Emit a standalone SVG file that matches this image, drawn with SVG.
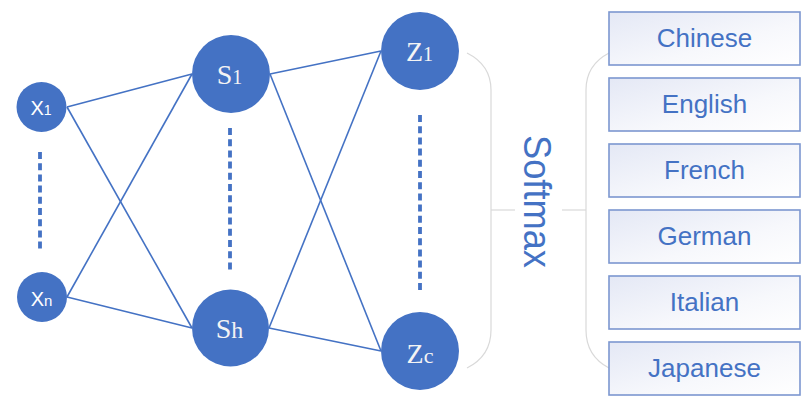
<svg xmlns="http://www.w3.org/2000/svg" width="811" height="407" viewBox="0 0 811 407">
<style>
.node{fill:#4472C4;}
.lbl-sans{font-family:"Liberation Sans",Arial,sans-serif;fill:#FFFFFF;text-anchor:middle;}
.lbl-serif{font-family:"Liberation Serif","Times New Roman",serif;fill:#F4F4F4;text-anchor:middle;}
.conn{stroke:#4472C4;stroke-width:1.6;fill:none;}
.dots{stroke:#4472C4;stroke-width:3.8;stroke-dasharray:7 4.2;fill:none;}
.brace{stroke:#D9D9D9;stroke-width:1.2;fill:none;}
.box{fill:url(#boxgrad);stroke:#7C97D0;stroke-width:1.6;}
.boxtxt{font-family:"Liberation Sans",Arial,sans-serif;font-size:26px;fill:#4472C4;text-anchor:middle;}
.soft{font-family:"Liberation Sans",Arial,sans-serif;font-size:38px;fill:#4472C4;text-anchor:middle;}
</style>
<defs>
<linearGradient id="boxgrad" x1="0" y1="0" x2="1" y2="1">
<stop offset="0" stop-color="#E4E8F5"/>
<stop offset="0.6" stop-color="#F7F8FC"/>
<stop offset="1" stop-color="#FFFFFF"/>
</linearGradient>
</defs>
<rect width="811" height="407" fill="#FFFFFF"/>
<g id="connectors">
<line class="conn" x1="67" y1="107" x2="192" y2="74"/>
<line class="conn" x1="67" y1="107" x2="192" y2="328"/>
<line class="conn" x1="67" y1="297" x2="192" y2="74"/>
<line class="conn" x1="67" y1="297" x2="192" y2="328"/>
<line class="conn" x1="270" y1="74" x2="381" y2="51"/>
<line class="conn" x1="270" y1="74" x2="381" y2="351"/>
<line class="conn" x1="269" y1="328" x2="381" y2="51"/>
<line class="conn" x1="269" y1="328" x2="381" y2="351"/>
</g>
<g id="dots">
<line class="dots" x1="40" y1="152" x2="40" y2="250"/>
<line class="dots" x1="230" y1="128" x2="230" y2="272"/>
<line class="dots" x1="420" y1="115" x2="420" y2="290"/>
</g>
<g id="x1"><circle class="node" cx="41.5" cy="107" r="25"/><text class="lbl-sans" x="41" y="115" font-size="20">X<tspan font-size="14">1</tspan></text></g>
<g id="xn"><circle class="node" cx="42" cy="297" r="25"/><text class="lbl-sans" x="41.5" y="306" font-size="20">X<tspan font-size="15">n</tspan></text></g>
<g id="s1"><circle class="node" cx="231" cy="74" r="39"/><text class="lbl-serif" x="229.5" y="84" font-size="28">S<tspan font-size="20">1</tspan></text></g>
<g id="sh"><circle class="node" cx="230.5" cy="328" r="38.5"/><text class="lbl-serif" x="229.5" y="338" font-size="28">S<tspan font-size="24">h</tspan></text></g>
<g id="z1"><circle class="node" cx="420" cy="51" r="39"/><text class="lbl-serif" x="419.5" y="61" font-size="28">Z<tspan font-size="20">1</tspan></text></g>
<g id="zc"><circle class="node" cx="420" cy="351" r="39"/><text class="lbl-serif" x="420" y="363" font-size="28">Z<tspan font-size="22">c</tspan></text></g>
<g id="softmax">
<path class="brace" d="M467,53 Q491,65 491,90 L491,330 Q491,356 467,368"/>
<line class="brace" x1="491" y1="210" x2="515" y2="210"/>
<line class="brace" x1="562" y1="210" x2="586" y2="210"/>
<path class="brace" d="M609,53 Q586,65 586,90 L586,330 Q586,356 609,368"/>
<text class="soft" transform="translate(524,201.5) rotate(90)" x="0" y="0" textLength="133" lengthAdjust="spacingAndGlyphs">Softmax</text>
</g>
<g id="chinese"><rect class="box" x="609" y="12" width="191" height="53"/><text class="boxtxt" x="704.5" y="47">Chinese</text></g>
<g id="english"><rect class="box" x="609" y="78" width="191" height="53"/><text class="boxtxt" x="704.5" y="113">English</text></g>
<g id="french"><rect class="box" x="609" y="144" width="191" height="53"/><text class="boxtxt" x="704.5" y="179">French</text></g>
<g id="german"><rect class="box" x="609" y="210" width="191" height="53"/><text class="boxtxt" x="704.5" y="245">German</text></g>
<g id="italian"><rect class="box" x="609" y="276" width="191" height="53"/><text class="boxtxt" x="704.5" y="311">Italian</text></g>
<g id="japanese"><rect class="box" x="609" y="342" width="191" height="53"/><text class="boxtxt" x="704.5" y="377">Japanese</text></g>
</svg>
